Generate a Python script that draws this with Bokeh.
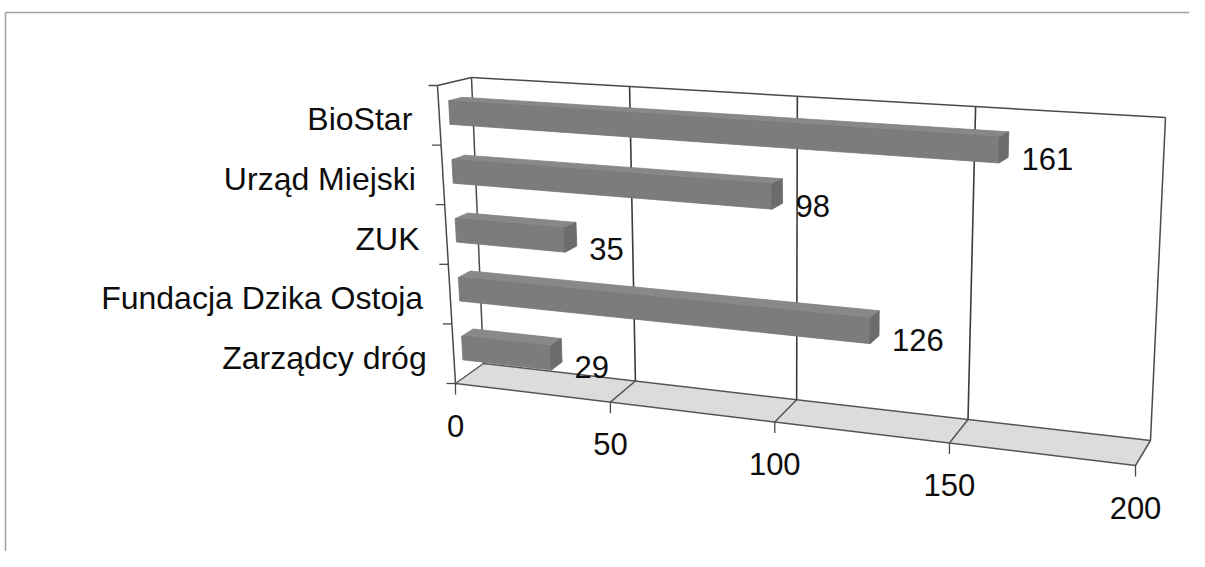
from bokeh.plotting import figure
from bokeh.models import Range1d
from bokeh.core.properties import value
from bokeh.embed import file_html
from bokeh.resources import INLINE

# ---------------- data ----------------
categories = ["BioStar", "Urząd Miejski", "ZUK", "Fundacja Dzika Ostoja", "Zarządcy dróg"]
counts = [161, 98, 35, 126, 29]
value_ticks = [0, 50, 100, 150, 200]
vmax = 200

# ---------------- 3D scene -> screen projection ----------------
# corners of the chart box (value, height, depth) in picture pixels
C = {
    (0, 0, 0): (455, 383), (0, 0, 1): (483, 363),
    (0, 1, 0): (437, 85),  (0, 1, 1): (471, 77),
    (1, 0, 0): (1135, 465), (1, 0, 1): (1150, 440),
    (1, 1, 0): (1144, 131), (1, 1, 1): (1165, 117),
}
R = 1.13  # perspective foreshortening along the value axis


def proj(v, h, d):
    u = v / vmax
    t = u / (u + R * (1 - u))
    x = y = 0.0
    for i, wi in ((0, 1 - t), (1, t)):
        for j, wj in ((0, 1 - h), (1, h)):
            for k, wk in ((0, 1 - d), (1, d)):
                w = wi * wj * wk
                x += w * C[(i, j, k)][0]
                y += w * C[(i, j, k)][1]
    return x, y


W, H = 1189, 551
p = figure(width=W, height=H, x_range=Range1d(0, W), y_range=Range1d(H, 0),
           output_backend="svg", toolbar_location=None, min_border=0,
           x_axis_location=None, y_axis_location=None)
p.grid.visible = False
p.outline_line_color = None
p.background_fill_color = "white"
p.border_fill_color = "white"

# chart area frame (partly visible)
p.multi_line(xs=[[5, W], [5, 5]], ys=[[12, 12], [12, H]],
             line_color="#a0a0a0", line_width=1.5)

# floor
fl = [proj(0, 0, 0), proj(vmax, 0, 0), proj(vmax, 0, 1), proj(0, 0, 1)]
p.patch([q[0] for q in fl], [q[1] for q in fl], fill_color="#dcdcdc",
        line_color="#555555", line_width=1.5)

# floor cross lines
xs, ys = [], []
for v in value_ticks[1:-1]:
    a, b = proj(v, 0, 0), proj(v, 0, 1)
    xs.append([a[0], b[0]]); ys.append([a[1], b[1]])
p.multi_line(xs=xs, ys=ys, line_color="#555555", line_width=1.5)

# back wall gridlines
xs, ys = [], []
for v in value_ticks[1:-1]:
    a, b = proj(v, 0, 1), proj(v, 1, 1)
    xs.append([a[0], b[0]]); ys.append([a[1], b[1]])
p.multi_line(xs=xs, ys=ys, line_color="#3c3c3c", line_width=1.6)

# wall edges
edges = [
    (proj(0, 0, 1), proj(0, 1, 1)),
    (proj(0, 1, 1), proj(vmax, 1, 1)),
    (proj(vmax, 0, 1), proj(vmax, 1, 1)),
    (proj(0, 1, 0), proj(0, 1, 1)),
    (proj(0, 0, 0), proj(0, 1, 0)),
]
p.multi_line(xs=[[a[0], b[0]] for a, b in edges], ys=[[a[1], b[1]] for a, b in edges],
             line_color="#4a4a4a", line_width=1.5)

# category axis ticks
n = len(categories)
xs, ys = [], []
for k in range(n + 1):
    a = proj(0, k / n, 0)
    xs.append([a[0] - 9, a[0]]); ys.append([a[1], a[1]])
# value axis ticks
for v in value_ticks:
    a = proj(v, 0, 0)
    xs.append([a[0], a[0]]); ys.append([a[1], a[1] + 11])
p.multi_line(xs=xs, ys=ys, line_color="#4a4a4a", line_width=1.3)

# bars
bw = 0.4 / n / 2
d0, d1 = 0.3, 0.7
front_x, front_y, top_x, top_y, end_x, end_y = [], [], [], [], [], []
lab_x, lab_y, lab_t, cat_x, cat_y = [], [], [], [], []
for i, (cat, val) in enumerate(zip(categories, counts)):
    hc = 1 - (i + 0.5) / n
    h0, h1 = hc - bw, hc + bw
    f = [proj(0, h0, d0), proj(val, h0, d0), proj(val, h1, d0), proj(0, h1, d0)]
    t = [proj(0, h1, d0), proj(val, h1, d0), proj(val, h1, d1), proj(0, h1, d1)]
    e = [proj(val, h0, d0), proj(val, h0, d1), proj(val, h1, d1), proj(val, h1, d0)]
    front_x.append([q[0] for q in f]); front_y.append([q[1] for q in f])
    top_x.append([q[0] for q in t]); top_y.append([q[1] for q in t])
    end_x.append([q[0] for q in e]); end_y.append([q[1] for q in e])
    lab_x.append(proj(val, hc, d1)[0] + 13)
    lab_y.append(proj(val, hc, d0)[1] + 9)
    lab_t.append(str(val))
    c = proj(0, hc, 0)
    cat_x.append(c[0] - 27); cat_y.append(c[1] + 4)

p.patches(top_x, top_y, fill_color="#888888", line_color="#828282", line_width=0.8)
p.patches(front_x, front_y, fill_color="#7c7c7c", line_color="#767676", line_width=0.8)
p.patches(end_x, end_y, fill_color="#6c6c6c", line_color="#666666", line_width=0.8)

font = value("Liberation Sans")
p.text(x=lab_x, y=lab_y, text=lab_t, text_font=font, text_font_size="31px",
       text_color="#0d0d0d", text_baseline="middle", text_align="left")
p.text(x=cat_x, y=cat_y, text=categories, text_font=font, text_font_size="32px",
       text_color="#0d0d0d", text_baseline="middle", text_align="right")

tx = [proj(v, 0, 0)[0] for v in value_ticks]
ty = [proj(v, 0, 0)[1] + 42 for v in value_ticks]
p.text(x=tx, y=ty, text=[str(v) for v in value_ticks], text_font=font,
       text_font_size="31px", text_color="#0d0d0d", text_baseline="middle",
       text_align="center")

open("out.html", "w").write(file_html(p, INLINE))
